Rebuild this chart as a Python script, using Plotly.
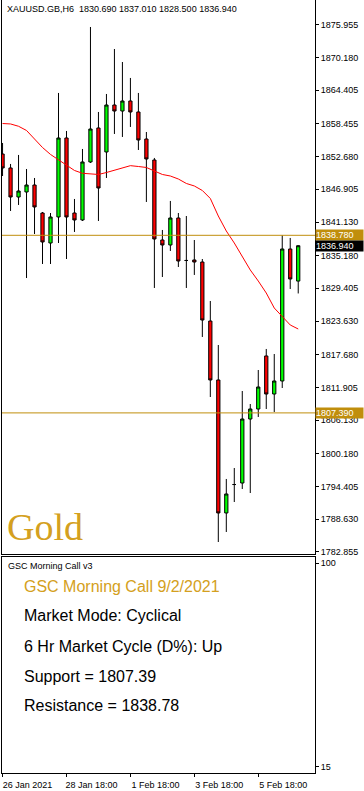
import plotly.graph_objects as go

# ---------------- data ----------------
bar_index = list(range(38))
opens = [1853.15, 1850.68, 1845.55, 1846.44, 1847.67, 1842.72, 1837.42, 1842.02, 1855.98, 1842.72,
         1841.49, 1851.74, 1857.75, 1853.51, 1861.81, 1860.75, 1862.52, 1860.58, 1855.80, 1852.09,
         1837.95, 1837.07, 1841.84, 1834.33, 1834.42, 1834.06, 1823.63, 1813.21, 1789.70, 1794.73,
         1795.00, 1806.31, 1808.08, 1817.45, 1810.73, 1813.03, 1836.36, 1830.69]
highs = [1855.10, 1851.39, 1852.98, 1850.50, 1848.91, 1842.90, 1842.72, 1863.94, 1857.22, 1845.20,
         1854.04, 1875.60, 1860.58, 1863.76, 1871.71, 1869.41, 1866.59, 1863.94, 1857.04, 1852.45,
         1839.72, 1844.85, 1842.72, 1842.19, 1837.95, 1834.59, 1827.17, 1819.39, 1795.71, 1797.65,
         1811.26, 1808.96, 1814.97, 1818.69, 1817.80, 1838.78, 1838.31, 1837.01]
lows = [1849.26, 1843.08, 1844.14, 1831.23, 1839.01, 1833.71, 1833.71, 1837.42, 1834.59, 1839.37,
        1841.31, 1851.56, 1841.31, 1848.91, 1856.69, 1856.16, 1857.93, 1853.86, 1844.67, 1829.47,
        1831.41, 1836.01, 1833.18, 1829.47, 1831.77, 1820.81, 1810.20, 1784.57, 1786.34, 1791.64,
        1793.94, 1793.23, 1806.67, 1808.08, 1807.55, 1811.79, 1829.29, 1828.50]
closes = [1850.68, 1845.55, 1846.61, 1847.67, 1843.79, 1837.60, 1842.02, 1855.98, 1842.02, 1841.49,
          1851.74, 1857.57, 1847.14, 1861.81, 1860.75, 1862.52, 1860.58, 1855.63, 1852.27, 1838.13,
          1837.07, 1841.84, 1834.24, 1834.33, 1834.06, 1823.81, 1813.21, 1789.70, 1793.06, 1794.73,
          1806.31, 1808.08, 1811.97, 1810.73, 1813.03, 1836.36, 1831.06, 1836.94]
ma_values = [1858.54, 1858.46, 1858.05, 1857.31, 1855.80, 1854.30, 1853.07, 1852.09, 1851.21, 1850.24,
             1849.74, 1849.62, 1849.53, 1849.88, 1850.32, 1850.77, 1851.09, 1850.94, 1850.77, 1850.15,
             1849.53, 1849.26, 1848.73, 1847.94, 1847.50, 1846.70, 1845.29, 1842.19, 1839.54, 1837.42,
             1835.12, 1832.65, 1830.70, 1828.58, 1825.93, 1824.39, 1822.93, 1822.22]

support = 1807.39
resistance = 1838.78
last_close = 1836.94

price_ticks = [1875.955, 1870.180, 1864.405, 1858.455, 1852.680, 1846.905, 1841.130, 1835.180,
               1829.405, 1823.630, 1817.680, 1811.905, 1806.130, 1800.180, 1794.405, 1788.630, 1782.855]
price_tick_text = ["%.3f" % v for v in price_ticks]
time_tick_index = [0, 8, 16, 24, 32]
time_tick_text = ["26 Jan 2021", "28 Jan 18:00", "1 Feb 18:00", "3 Feb 18:00", "5 Feb 18:00"]
osc_ticks = [15, 100]

header = "XAUUSD.GB,H6  1830.690 1837.010 1828.500 1836.940"
panel_title = "GSC Morning Call v3"
info_title = "GSC Morning Call 9/2/2021"
info_lines = ["Market Mode: Cyclical", "6 Hr Market Cycle (D%): Up",
              "Support = 1807.39", "Resistance = 1838.78"]

# ---------------- styling ----------------
GOLD_LINE = "#C08E0C"
GOLD_TEXT = "#D4A020"
FONT = "Liberation Sans"

W, H = 364, 791
ML, MR, MT, MB = 2, 49, 0, 18
PH = H - MT - MB  # 773
main_bottom = (PH - 554) / PH
osc_top = (PH - 557) / PH

fig = go.Figure()
fig.add_trace(go.Candlestick(
    x=bar_index, open=opens, high=highs, low=lows, close=closes,
    increasing=dict(line=dict(color="black", width=1), fillcolor="#00FF00"),
    decreasing=dict(line=dict(color="black", width=1), fillcolor="#FF0000"),
    whiskerwidth=0, hoverinfo="skip", showlegend=False, xaxis="x", yaxis="y"))
fig.add_trace(go.Scatter(x=bar_index, y=ma_values, mode="lines",
                         line=dict(color="#FF0000", width=1), hoverinfo="skip",
                         showlegend=False, xaxis="x", yaxis="y"))
fig.add_trace(go.Scatter(x=[], y=[], xaxis="x2", yaxis="y2", showlegend=False))

xr = [-0.07, 39.1]
axis_common = dict(showline=True, linecolor="black", linewidth=1, mirror=True,
                   showgrid=False, zeroline=False, tickfont=dict(family=FONT, size=9, color="black"))

fig.update_layout(
    width=W, height=H, margin=dict(l=ML, r=MR, t=MT, b=MB),
    paper_bgcolor="white", plot_bgcolor="white", boxgap=0.42,
    xaxis=dict(domain=[0, 1], range=xr, anchor="y", showticklabels=False, ticks="",
               rangeslider=dict(visible=False), **axis_common),
    yaxis=dict(domain=[main_bottom, 1], range=[1782.45, 1880.37], side="right",
               tickmode="array", tickvals=price_ticks, ticktext=price_tick_text,
               ticks="outside", ticklen=3, tickcolor="black", anchor="x", **axis_common),
    xaxis2=dict(domain=[0, 1], range=xr, anchor="y2", tickmode="array",
                tickvals=time_tick_index, ticktext=time_tick_text, ticks="outside",
                ticklen=3, tickcolor="black", ticklabelshift=25, **axis_common),
    yaxis2=dict(domain=[0, osc_top], range=[12.37, 102.63], side="right", anchor="x2",
                tickmode="array", tickvals=osc_ticks, ticktext=[str(v) for v in osc_ticks],
                ticks="outside", ticklen=3, tickcolor="black", **axis_common),
)

for lvl in (resistance, support):
    fig.add_shape(type="line", xref="x domain", yref="y", x0=0, x1=1, y0=lvl, y1=lvl,
                  line=dict(color=GOLD_LINE, width=1))

# right axis price boxes
for val, bg in ((resistance, GOLD_LINE), (last_close, "black"), (support, GOLD_LINE)):
    fig.add_annotation(xref="paper", yref="y", x=1, y=val, xanchor="left", yanchor="middle",
                       text="%.3f" % val, showarrow=False, bgcolor=bg, borderpad=0,
                       width=47, height=10, align="left",
                       font=dict(family=FONT, size=9, color="white"))

# header
fig.add_annotation(xref="paper", yref="paper", x=3 / 313, y=1 - 8.5 / PH, xanchor="left",
                   yanchor="middle", text=header, showarrow=False,
                   font=dict(family=FONT, size=9, color="black"))
# Gold label
fig.add_annotation(xref="paper", yref="paper", x=3 / 313, y=(PH - 527) / PH, xanchor="left",
                   yanchor="middle", text="Gold", showarrow=False,
                   font=dict(family="Liberation Serif", size=38, color=GOLD_TEXT))
# lower panel title
fig.add_annotation(xref="paper", yref="paper", x=4 / 313, y=(PH - 566) / PH, xanchor="left",
                   yanchor="middle", text=panel_title, showarrow=False,
                   font=dict(family=FONT, size=9, color="black"))
# info lines
ys = [586, 615.7, 646, 676, 705.7]
texts = [info_title] + info_lines
for i, (t, yy) in enumerate(zip(texts, ys)):
    fig.add_annotation(xref="paper", yref="paper", x=20 / 313, y=(PH - yy) / PH,
                       xanchor="left", yanchor="middle", text=t, showarrow=False,
                       font=dict(family=FONT, size=16, color=GOLD_TEXT if i == 0 else "black"))

fig.write_html("out.html")
